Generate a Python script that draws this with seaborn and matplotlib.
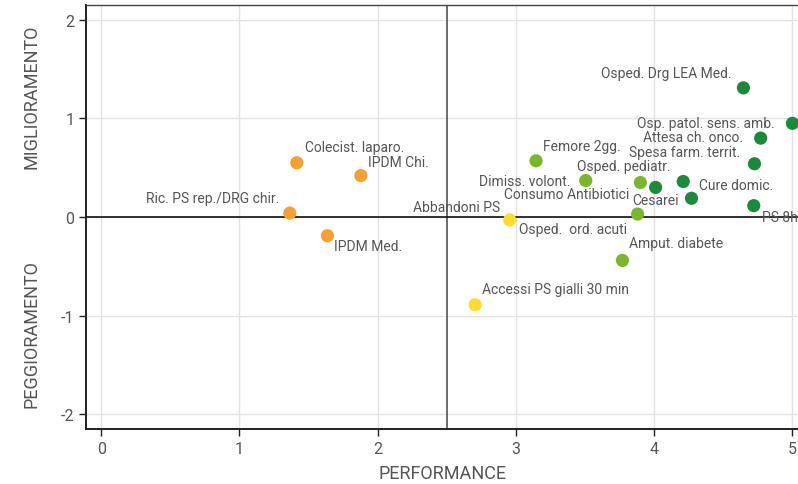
import matplotlib
matplotlib.use('Agg')
import matplotlib.pyplot as plt
import seaborn as sns
import pandas as pd

# Dati
indicatori = ['Colecist. laparo.', 'IPDM Chi.', 'Ric. PS rep./DRG chir.', 'IPDM Med.',
              'Abbandoni PS', 'Accessi PS gialli 30 min', 'Osped.  ord. acuti',
              'Femore 2gg.', 'Dimiss. volont.', 'Consumo Antibiotici', 'Osped. pediatr.',
              'Cesarei', 'Amput. diabete', 'Osped. Drg LEA Med.', 'Osp. patol. sens. amb.',
              'Attesa ch. onco.', 'Spesa farm. territ.', 'Cure domic.', 'PS 8h']
performance = [1.415, 1.878, 1.364, 1.636, 2.955, 2.705, 3.88, 3.145, 3.505, 4.01, 3.90,
               4.27, 3.77, 4.645, 5.0, 4.77, 4.725, 4.21, 4.72]
trend = [0.55, 0.42, 0.04, -0.19, -0.03, -0.89, 0.03, 0.57, 0.37, 0.30, 0.35,
         0.19, -0.44, 1.31, 0.95, 0.80, 0.54, 0.36, 0.115]
fascia = ['scarsa', 'scarsa', 'scarsa', 'scarsa', 'media', 'media', 'buona',
          'buona', 'buona', 'ottima', 'buona', 'ottima', 'buona', 'ottima', 'ottima',
          'ottima', 'ottima', 'ottima', 'ottima']

colori = {'scarsa': '#F5A030', 'media': '#FFDB2E', 'buona': '#78B82A', 'ottima': '#1B8A3A'}

# posizione delle etichette (offset in pixel, allineamento)
etichette = {
    'Colecist. laparo.': (8, 16, 'left'),
    'IPDM Chi.': (7, 14, 'left'),
    'Ric. PS rep./DRG chir.': (-11, 15, 'right'),
    'IPDM Med.': (7, -10, 'left'),
    'Abbandoni PS': (-10, 13, 'right'),
    'Accessi PS gialli 30 min': (7, 16, 'left'),
    'Osped.  ord. acuti': (-11, -15, 'right'),
    'Femore 2gg.': (7, 15, 'left'),
    'Dimiss. volont.': (-15, 0, 'right'),
    'Consumo Antibiotici': (-26, -7, 'right'),
    'Osped. pediatr.': (-17, 16, 'center'),
    'Cesarei': (-13, -2, 'right'),
    'Amput. diabete': (7, 17, 'left'),
    'Osped. Drg LEA Med.': (-12, 15, 'right'),
    'Osp. patol. sens. amb.': (-18, 0, 'right'),
    'Attesa ch. onco.': (-18, 1, 'right'),
    'Spesa farm. territ.': (-14, 12, 'right'),
    'Cure domic.': (16, -3, 'left'),
    'PS 8h': (8, -11, 'left'),
}

df = pd.DataFrame({'Indicatore': indicatori, 'Performance': performance,
                   'Trend': trend, 'Fascia': fascia})

sns.set_style('whitegrid')
plt.rcParams['font.family'] = ['Roboto', 'DejaVu Sans']
plt.rcParams['axes.unicode_minus'] = False

fig = plt.figure(figsize=(7.98, 4.85), dpi=100)
ax = fig.add_axes([0.1078, 0.1134, 0.8922, 0.8742])

ax.axvline(2.5, color='#444444', lw=1.1, zorder=1)
ax.axhline(0, color='#111111', lw=1.2, zorder=1)

sns.scatterplot(data=df, x='Performance', y='Trend', hue='Fascia', palette=colori,
                s=90, edgecolor='none', legend=False, ax=ax, zorder=3)

for nome, x, y in zip(indicatori, performance, trend):
    dx, dy, ha = etichette[nome]
    ax.annotate(nome, (x, y), xytext=(dx * 0.72, dy * 0.72), textcoords='offset points',
                ha=ha, va='center', fontsize=10, color='#555555', zorder=4)

ax.set_xlim(-0.11, 5.04)
ax.set_ylim(-2.15, 2.15)
ax.set_xticks([0, 1, 2, 3, 4, 5])
ax.set_yticks([-2, -1, 0, 1, 2])
ax.grid(True, color='#e2e2e2', lw=1)

for lato in ['left', 'bottom']:
    ax.spines[lato].set_color('#222222')
    ax.spines[lato].set_linewidth(1.4)
ax.spines['top'].set_color('#444444')
ax.spines['top'].set_linewidth(1.0)
ax.spines['right'].set_visible(False)

ax.tick_params(axis='both', which='both', direction='out', length=5, width=1,
               color='#222222', labelsize=11.5, labelcolor='#555555',
               left=True, bottom=True)

ax.set_xlabel('PERFORMANCE', fontsize=13, color='#555555', labelpad=6)
ax.set_ylabel('', fontsize=13)
fig.text(0.040, 0.80, 'MIGLIORAMENTO', rotation=90, ha='center', va='center',
         fontsize=13, color='#555555')
fig.text(0.040, 0.311, 'PEGGIORAMENTO', rotation=90, ha='center', va='center',
         fontsize=13, color='#555555')

fig.savefig('out.png', dpi=100)
